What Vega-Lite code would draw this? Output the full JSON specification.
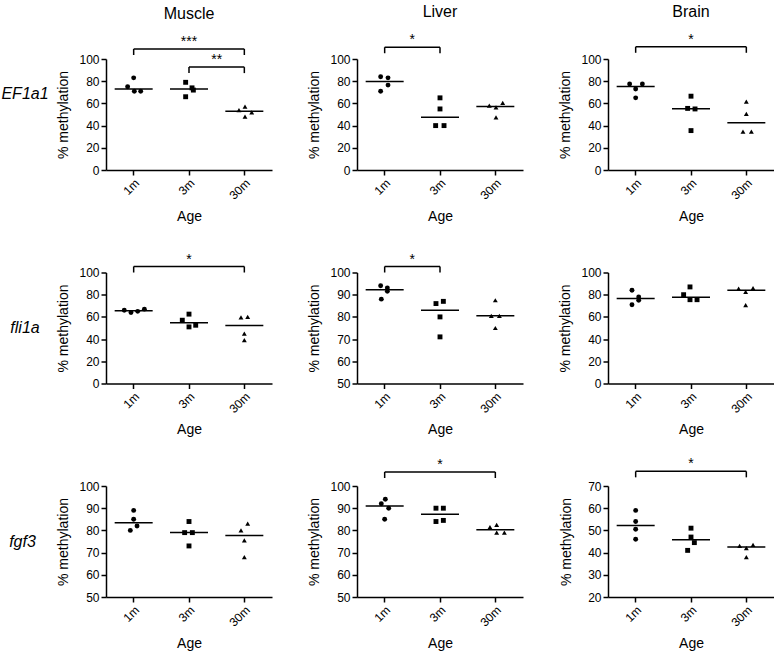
{
"$schema":"https://vega.github.io/schema/vega-lite/v6.json",
"padding":{"left":0,"top":3,"right":0,"bottom":0},
"background":"white",
"datasets":{
"pts":[
{"t":"Muscle","g":"EF1a1","a":"1m","v":83,"j":0},{"t":"Muscle","g":"EF1a1","a":"1m","v":75,"j":-1.8},{"t":"Muscle","g":"EF1a1","a":"1m","v":71,"j":0.2},{"t":"Muscle","g":"EF1a1","a":"1m","v":71,"j":2.1},
{"t":"Muscle","g":"EF1a1","a":"3m","v":79,"j":-1},{"t":"Muscle","g":"EF1a1","a":"3m","v":74,"j":0.9},{"t":"Muscle","g":"EF1a1","a":"3m","v":72,"j":1.3},{"t":"Muscle","g":"EF1a1","a":"3m","v":66,"j":-1},
{"t":"Muscle","g":"EF1a1","a":"30m","v":54,"j":-1.6},{"t":"Muscle","g":"EF1a1","a":"30m","v":57,"j":0.2},{"t":"Muscle","g":"EF1a1","a":"30m","v":52,"j":2.2},{"t":"Muscle","g":"EF1a1","a":"30m","v":48,"j":0.2},
{"t":"Liver","g":"EF1a1","a":"1m","v":84,"j":-1.2},{"t":"Liver","g":"EF1a1","a":"1m","v":83,"j":1},{"t":"Liver","g":"EF1a1","a":"1m","v":76.5,"j":1},{"t":"Liver","g":"EF1a1","a":"1m","v":71,"j":-1.2},
{"t":"Liver","g":"EF1a1","a":"3m","v":65,"j":0},{"t":"Liver","g":"EF1a1","a":"3m","v":55,"j":0},{"t":"Liver","g":"EF1a1","a":"3m","v":40,"j":-1.3},{"t":"Liver","g":"EF1a1","a":"3m","v":40,"j":1.2},
{"t":"Liver","g":"EF1a1","a":"30m","v":58,"j":-1.8},{"t":"Liver","g":"EF1a1","a":"30m","v":60.5,"j":2.2},{"t":"Liver","g":"EF1a1","a":"30m","v":56.5,"j":0.2},{"t":"Liver","g":"EF1a1","a":"30m","v":47.5,"j":0.2},
{"t":"Brain","g":"EF1a1","a":"1m","v":77.5,"j":-1.8},{"t":"Brain","g":"EF1a1","a":"1m","v":77.5,"j":2},{"t":"Brain","g":"EF1a1","a":"1m","v":73,"j":0},{"t":"Brain","g":"EF1a1","a":"1m","v":65,"j":0},
{"t":"Brain","g":"EF1a1","a":"3m","v":66.5,"j":0},{"t":"Brain","g":"EF1a1","a":"3m","v":55.5,"j":-1},{"t":"Brain","g":"EF1a1","a":"3m","v":55,"j":1.2},{"t":"Brain","g":"EF1a1","a":"3m","v":35.5,"j":0},
{"t":"Brain","g":"EF1a1","a":"30m","v":61.5,"j":0},{"t":"Brain","g":"EF1a1","a":"30m","v":50.5,"j":0},{"t":"Brain","g":"EF1a1","a":"30m","v":34.5,"j":-1},{"t":"Brain","g":"EF1a1","a":"30m","v":34.5,"j":1.5},
{"t":"Muscle","g":"fli1a","a":"1m","v":66,"j":-2.8},{"t":"Muscle","g":"fli1a","a":"1m","v":64,"j":-0.8},{"t":"Muscle","g":"fli1a","a":"1m","v":65,"j":1.2},{"t":"Muscle","g":"fli1a","a":"1m","v":67,"j":3.2},
{"t":"Muscle","g":"fli1a","a":"3m","v":57,"j":-2},{"t":"Muscle","g":"fli1a","a":"3m","v":62.5,"j":0},{"t":"Muscle","g":"fli1a","a":"3m","v":52.5,"j":2},{"t":"Muscle","g":"fli1a","a":"3m","v":51,"j":0},
{"t":"Muscle","g":"fli1a","a":"30m","v":59.5,"j":-1},{"t":"Muscle","g":"fli1a","a":"30m","v":60,"j":1},{"t":"Muscle","g":"fli1a","a":"30m","v":45,"j":0},{"t":"Muscle","g":"fli1a","a":"30m","v":39,"j":0},
{"t":"Liver","g":"fli1a","a":"1m","v":94,"j":-1.2},{"t":"Liver","g":"fli1a","a":"1m","v":93,"j":0.8},{"t":"Liver","g":"fli1a","a":"1m","v":91.5,"j":0.8},{"t":"Liver","g":"fli1a","a":"1m","v":88,"j":-1},
{"t":"Liver","g":"fli1a","a":"3m","v":86,"j":-1.2},{"t":"Liver","g":"fli1a","a":"3m","v":87,"j":1},{"t":"Liver","g":"fli1a","a":"3m","v":80,"j":0},{"t":"Liver","g":"fli1a","a":"3m","v":71,"j":0},
{"t":"Liver","g":"fli1a","a":"30m","v":87.5,"j":0},{"t":"Liver","g":"fli1a","a":"30m","v":80.5,"j":-1.2},{"t":"Liver","g":"fli1a","a":"30m","v":80.5,"j":1.2},{"t":"Liver","g":"fli1a","a":"30m","v":75,"j":0},
{"t":"Brain","g":"fli1a","a":"1m","v":84,"j":-1.1},{"t":"Brain","g":"fli1a","a":"1m","v":78,"j":0.9},{"t":"Brain","g":"fli1a","a":"1m","v":75,"j":0.9},{"t":"Brain","g":"fli1a","a":"1m","v":71,"j":-1.1},
{"t":"Brain","g":"fli1a","a":"3m","v":87,"j":-0.3},{"t":"Brain","g":"fli1a","a":"3m","v":80,"j":-2.2},{"t":"Brain","g":"fli1a","a":"3m","v":75.5,"j":-0.3},{"t":"Brain","g":"fli1a","a":"3m","v":75.5,"j":1.8},
{"t":"Brain","g":"fli1a","a":"30m","v":85.5,"j":-2.3},{"t":"Brain","g":"fli1a","a":"30m","v":82.5,"j":-0.2},{"t":"Brain","g":"fli1a","a":"30m","v":86,"j":2},{"t":"Brain","g":"fli1a","a":"30m","v":70.5,"j":-0.2},
{"t":"Muscle","g":"fgf3","a":"1m","v":89,"j":0},{"t":"Muscle","g":"fgf3","a":"1m","v":85,"j":0},{"t":"Muscle","g":"fgf3","a":"1m","v":82,"j":1},{"t":"Muscle","g":"fgf3","a":"1m","v":80,"j":-1},
{"t":"Muscle","g":"fgf3","a":"3m","v":84,"j":0},{"t":"Muscle","g":"fgf3","a":"3m","v":79,"j":-1.3},{"t":"Muscle","g":"fgf3","a":"3m","v":79,"j":1},{"t":"Muscle","g":"fgf3","a":"3m","v":73,"j":0},
{"t":"Muscle","g":"fgf3","a":"30m","v":83,"j":1},{"t":"Muscle","g":"fgf3","a":"30m","v":80,"j":-1},{"t":"Muscle","g":"fgf3","a":"30m","v":75.5,"j":0},{"t":"Muscle","g":"fgf3","a":"30m","v":68,"j":0},
{"t":"Liver","g":"fgf3","a":"1m","v":94,"j":0.2},{"t":"Liver","g":"fgf3","a":"1m","v":92,"j":-1},{"t":"Liver","g":"fgf3","a":"1m","v":90,"j":1.2},{"t":"Liver","g":"fgf3","a":"1m","v":85,"j":0},
{"t":"Liver","g":"fgf3","a":"3m","v":90,"j":-1.2},{"t":"Liver","g":"fgf3","a":"3m","v":90,"j":1},{"t":"Liver","g":"fgf3","a":"3m","v":84,"j":-1.2},{"t":"Liver","g":"fgf3","a":"3m","v":84.5,"j":1},
{"t":"Liver","g":"fgf3","a":"30m","v":81.5,"j":-1.6},{"t":"Liver","g":"fgf3","a":"30m","v":82.5,"j":0.4},{"t":"Liver","g":"fgf3","a":"30m","v":79,"j":0.4},{"t":"Liver","g":"fgf3","a":"30m","v":79,"j":2.7},
{"t":"Brain","g":"fgf3","a":"1m","v":59,"j":0},{"t":"Brain","g":"fgf3","a":"1m","v":54,"j":0},{"t":"Brain","g":"fgf3","a":"1m","v":50.5,"j":0},{"t":"Brain","g":"fgf3","a":"1m","v":46,"j":0},
{"t":"Brain","g":"fgf3","a":"3m","v":51,"j":0},{"t":"Brain","g":"fgf3","a":"3m","v":47,"j":0},{"t":"Brain","g":"fgf3","a":"3m","v":44.5,"j":1},{"t":"Brain","g":"fgf3","a":"3m","v":41,"j":-1},
{"t":"Brain","g":"fgf3","a":"30m","v":43,"j":-2},{"t":"Brain","g":"fgf3","a":"30m","v":42,"j":0},{"t":"Brain","g":"fgf3","a":"30m","v":43.5,"j":2},{"t":"Brain","g":"fgf3","a":"30m","v":38,"j":0}
],
"br":[
{"t":"Muscle","g":"EF1a1","from":"1m","to":"30m","by":109,"lab":"***"},
{"t":"Muscle","g":"EF1a1","from":"3m","to":"30m","by":92.7,"lab":"**"},
{"t":"Liver","g":"EF1a1","from":"1m","to":"3m","by":110.6,"lab":"*"},
{"t":"Brain","g":"EF1a1","from":"1m","to":"30m","by":111,"lab":"*"},
{"t":"Muscle","g":"fli1a","from":"1m","to":"30m","by":105.4,"lab":"*"},
{"t":"Liver","g":"fli1a","from":"1m","to":"3m","by":102.7,"lab":"*"},
{"t":"Liver","g":"fgf3","from":"1m","to":"30m","by":106.3,"lab":"*"},
{"t":"Brain","g":"fgf3","from":"1m","to":"30m","by":76.6,"lab":"*"}
]
},
"concat":[
 {"width":21,"height":70,"data":{"values":[{"g":"EF1a1"}]},"mark":{"type":"text","fontSize":16,"fontStyle":"italic","font":"Liberation Sans","color":"black","dx":14.5},"encoding":{"text":{"field":"g"}}},
  {"width":166,"height":111,
   "title":{"text":"Muscle"},
   "layer":[
    {"data":{"name":"pts"},"transform":[{"filter":"datum.t==='Muscle' && datum.g==='EF1a1'"}],
     "mark":{"type":"point","filled":true,"opacity":1,"size":24,"color":"black"},
     "encoding":{"x":{"field":"a","type":"nominal","scale":{"type":"band","domain":["1m","3m","30m"],"paddingInner":0,"paddingOuter":0},"title":"Age"},
      "xOffset":{"field":"j","type":"quantitative","scale":{"domain":[-8.25,8.25]}},
      "y":{"field":"v","type":"quantitative","scale":{"domain":[0,100],"nice":false,"zero":false},"axis":{"values":[0,20,40,60,80,100]},"title":"% methylation"},
      "shape":{"field":"a","type":"nominal","scale":{"domain":["1m","3m","30m"],"range":["circle","square","triangle-up"]},"legend":null}}},
    {"data":{"name":"pts"},"transform":[{"filter":"datum.t==='Muscle' && datum.g==='EF1a1'"}],
     "mark":{"type":"tick","color":"black","size":38,"thickness":1.5},
     "encoding":{"x":{"field":"a","type":"nominal","title":"Age"},"y":{"aggregate":"median","field":"v","type":"quantitative","title":"% methylation"}}},
    {"data":{"name":"br"},"transform":[{"filter":"datum.t==='Muscle' && datum.g==='EF1a1'"}],
     "mark":{"type":"rule","color":"black","strokeWidth":1.5},
     "encoding":{"x":{"field":"from","type":"nominal","bandPosition":0.5,"title":"Age"},"x2":{"field":"to","title":"Age"},"y":{"field":"by","type":"quantitative","title":"% methylation"}}},
    {"data":{"name":"br"},"transform":[{"filter":"datum.t==='Muscle' && datum.g==='EF1a1'"}],
     "mark":{"type":"rule","color":"black","strokeWidth":1.5,"y2Offset":6},
     "encoding":{"x":{"field":"from","type":"nominal","bandPosition":0.5,"title":"Age"},"y":{"field":"by","type":"quantitative","title":"% methylation"},"y2":{"field":"by","title":"% methylation"}}},
    {"data":{"name":"br"},"transform":[{"filter":"datum.t==='Muscle' && datum.g==='EF1a1'"}],
     "mark":{"type":"rule","color":"black","strokeWidth":1.5,"y2Offset":6},
     "encoding":{"x":{"field":"to","type":"nominal","bandPosition":0.5,"title":"Age"},"y":{"field":"by","type":"quantitative","title":"% methylation"},"y2":{"field":"by","title":"% methylation"}}},
    {"data":{"name":"br"},"transform":[{"filter":"datum.t==='Muscle' && datum.g==='EF1a1' && datum.from==='1m' && datum.to==='30m'"}],
     "mark":{"type":"text","fontSize":14,"dy":-3,"baseline":"alphabetic","color":"black"},
     "encoding":{"x":{"datum":"3m","type":"nominal","bandPosition":0.5,"title":"Age"},"y":{"field":"by","type":"quantitative","title":"% methylation"},"text":{"field":"lab"}}},
    {"data":{"name":"br"},"transform":[{"filter":"datum.t==='Muscle' && datum.g==='EF1a1' && !(datum.from==='1m' && datum.to==='30m')"}],
     "mark":{"type":"text","fontSize":14,"dy":-3,"baseline":"alphabetic","color":"black"},
     "encoding":{"x":{"field":"from","type":"nominal","bandPosition":1,"title":"Age"},"y":{"field":"by","type":"quantitative","title":"% methylation"},"text":{"field":"lab"}}}
   ]},
  {"width":166,"height":111,
   "title":{"text":"Liver"},
   "layer":[
    {"data":{"name":"pts"},"transform":[{"filter":"datum.t==='Liver' && datum.g==='EF1a1'"}],
     "mark":{"type":"point","filled":true,"opacity":1,"size":24,"color":"black"},
     "encoding":{"x":{"field":"a","type":"nominal","scale":{"type":"band","domain":["1m","3m","30m"],"paddingInner":0,"paddingOuter":0},"title":"Age"},
      "xOffset":{"field":"j","type":"quantitative","scale":{"domain":[-8.25,8.25]}},
      "y":{"field":"v","type":"quantitative","scale":{"domain":[0,100],"nice":false,"zero":false},"axis":{"values":[0,20,40,60,80,100]},"title":"% methylation"},
      "shape":{"field":"a","type":"nominal","scale":{"domain":["1m","3m","30m"],"range":["circle","square","triangle-up"]},"legend":null}}},
    {"data":{"name":"pts"},"transform":[{"filter":"datum.t==='Liver' && datum.g==='EF1a1'"}],
     "mark":{"type":"tick","color":"black","size":38,"thickness":1.5},
     "encoding":{"x":{"field":"a","type":"nominal","title":"Age"},"y":{"aggregate":"median","field":"v","type":"quantitative","title":"% methylation"}}},
    {"data":{"name":"br"},"transform":[{"filter":"datum.t==='Liver' && datum.g==='EF1a1'"}],
     "mark":{"type":"rule","color":"black","strokeWidth":1.5},
     "encoding":{"x":{"field":"from","type":"nominal","bandPosition":0.5,"title":"Age"},"x2":{"field":"to","title":"Age"},"y":{"field":"by","type":"quantitative","title":"% methylation"}}},
    {"data":{"name":"br"},"transform":[{"filter":"datum.t==='Liver' && datum.g==='EF1a1'"}],
     "mark":{"type":"rule","color":"black","strokeWidth":1.5,"y2Offset":6},
     "encoding":{"x":{"field":"from","type":"nominal","bandPosition":0.5,"title":"Age"},"y":{"field":"by","type":"quantitative","title":"% methylation"},"y2":{"field":"by","title":"% methylation"}}},
    {"data":{"name":"br"},"transform":[{"filter":"datum.t==='Liver' && datum.g==='EF1a1'"}],
     "mark":{"type":"rule","color":"black","strokeWidth":1.5,"y2Offset":6},
     "encoding":{"x":{"field":"to","type":"nominal","bandPosition":0.5,"title":"Age"},"y":{"field":"by","type":"quantitative","title":"% methylation"},"y2":{"field":"by","title":"% methylation"}}},
    {"data":{"name":"br"},"transform":[{"filter":"datum.t==='Liver' && datum.g==='EF1a1'"}],
     "mark":{"type":"text","fontSize":14,"dy":-3,"baseline":"alphabetic","color":"black"},
     "encoding":{"x":{"field":"from","type":"nominal","bandPosition":1,"title":"Age"},"y":{"field":"by","type":"quantitative","title":"% methylation"},"text":{"field":"lab"}}}
   ]},
  {"width":166,"height":111,
   "title":{"text":"Brain"},
   "layer":[
    {"data":{"name":"pts"},"transform":[{"filter":"datum.t==='Brain' && datum.g==='EF1a1'"}],
     "mark":{"type":"point","filled":true,"opacity":1,"size":24,"color":"black"},
     "encoding":{"x":{"field":"a","type":"nominal","scale":{"type":"band","domain":["1m","3m","30m"],"paddingInner":0,"paddingOuter":0},"title":"Age"},
      "xOffset":{"field":"j","type":"quantitative","scale":{"domain":[-8.25,8.25]}},
      "y":{"field":"v","type":"quantitative","scale":{"domain":[0,100],"nice":false,"zero":false},"axis":{"values":[0,20,40,60,80,100]},"title":"% methylation"},
      "shape":{"field":"a","type":"nominal","scale":{"domain":["1m","3m","30m"],"range":["circle","square","triangle-up"]},"legend":null}}},
    {"data":{"name":"pts"},"transform":[{"filter":"datum.t==='Brain' && datum.g==='EF1a1'"}],
     "mark":{"type":"tick","color":"black","size":38,"thickness":1.5},
     "encoding":{"x":{"field":"a","type":"nominal","title":"Age"},"y":{"aggregate":"median","field":"v","type":"quantitative","title":"% methylation"}}},
    {"data":{"name":"br"},"transform":[{"filter":"datum.t==='Brain' && datum.g==='EF1a1'"}],
     "mark":{"type":"rule","color":"black","strokeWidth":1.5},
     "encoding":{"x":{"field":"from","type":"nominal","bandPosition":0.5,"title":"Age"},"x2":{"field":"to","title":"Age"},"y":{"field":"by","type":"quantitative","title":"% methylation"}}},
    {"data":{"name":"br"},"transform":[{"filter":"datum.t==='Brain' && datum.g==='EF1a1'"}],
     "mark":{"type":"rule","color":"black","strokeWidth":1.5,"y2Offset":6},
     "encoding":{"x":{"field":"from","type":"nominal","bandPosition":0.5,"title":"Age"},"y":{"field":"by","type":"quantitative","title":"% methylation"},"y2":{"field":"by","title":"% methylation"}}},
    {"data":{"name":"br"},"transform":[{"filter":"datum.t==='Brain' && datum.g==='EF1a1'"}],
     "mark":{"type":"rule","color":"black","strokeWidth":1.5,"y2Offset":6},
     "encoding":{"x":{"field":"to","type":"nominal","bandPosition":0.5,"title":"Age"},"y":{"field":"by","type":"quantitative","title":"% methylation"},"y2":{"field":"by","title":"% methylation"}}},
    {"data":{"name":"br"},"transform":[{"filter":"datum.t==='Brain' && datum.g==='EF1a1'"}],
     "mark":{"type":"text","fontSize":14,"dy":-3,"baseline":"alphabetic","color":"black"},
     "encoding":{"x":{"datum":"3m","type":"nominal","bandPosition":0.5,"title":"Age"},"y":{"field":"by","type":"quantitative","title":"% methylation"},"text":{"field":"lab"}}}
   ]},
 {"width":21,"height":111,"data":{"values":[{"g":"fli1a"}]},"mark":{"type":"text","fontSize":16,"fontStyle":"italic","font":"Liberation Sans","color":"black","dx":14.5},"encoding":{"text":{"field":"g"}}},
  {"width":166,"height":111,
   "layer":[
    {"data":{"name":"pts"},"transform":[{"filter":"datum.t==='Muscle' && datum.g==='fli1a'"}],
     "mark":{"type":"point","filled":true,"opacity":1,"size":24,"color":"black"},
     "encoding":{"x":{"field":"a","type":"nominal","scale":{"type":"band","domain":["1m","3m","30m"],"paddingInner":0,"paddingOuter":0},"title":"Age"},
      "xOffset":{"field":"j","type":"quantitative","scale":{"domain":[-8.25,8.25]}},
      "y":{"field":"v","type":"quantitative","scale":{"domain":[0,100],"nice":false,"zero":false},"axis":{"values":[0,20,40,60,80,100]},"title":"% methylation"},
      "shape":{"field":"a","type":"nominal","scale":{"domain":["1m","3m","30m"],"range":["circle","square","triangle-up"]},"legend":null}}},
    {"data":{"name":"pts"},"transform":[{"filter":"datum.t==='Muscle' && datum.g==='fli1a'"}],
     "mark":{"type":"tick","color":"black","size":38,"thickness":1.5},
     "encoding":{"x":{"field":"a","type":"nominal","title":"Age"},"y":{"aggregate":"median","field":"v","type":"quantitative","title":"% methylation"}}},
    {"data":{"name":"br"},"transform":[{"filter":"datum.t==='Muscle' && datum.g==='fli1a'"}],
     "mark":{"type":"rule","color":"black","strokeWidth":1.5},
     "encoding":{"x":{"field":"from","type":"nominal","bandPosition":0.5,"title":"Age"},"x2":{"field":"to","title":"Age"},"y":{"field":"by","type":"quantitative","title":"% methylation"}}},
    {"data":{"name":"br"},"transform":[{"filter":"datum.t==='Muscle' && datum.g==='fli1a'"}],
     "mark":{"type":"rule","color":"black","strokeWidth":1.5,"y2Offset":6},
     "encoding":{"x":{"field":"from","type":"nominal","bandPosition":0.5,"title":"Age"},"y":{"field":"by","type":"quantitative","title":"% methylation"},"y2":{"field":"by","title":"% methylation"}}},
    {"data":{"name":"br"},"transform":[{"filter":"datum.t==='Muscle' && datum.g==='fli1a'"}],
     "mark":{"type":"rule","color":"black","strokeWidth":1.5,"y2Offset":6},
     "encoding":{"x":{"field":"to","type":"nominal","bandPosition":0.5,"title":"Age"},"y":{"field":"by","type":"quantitative","title":"% methylation"},"y2":{"field":"by","title":"% methylation"}}},
    {"data":{"name":"br"},"transform":[{"filter":"datum.t==='Muscle' && datum.g==='fli1a'"}],
     "mark":{"type":"text","fontSize":14,"dy":-3,"baseline":"alphabetic","color":"black"},
     "encoding":{"x":{"datum":"3m","type":"nominal","bandPosition":0.5,"title":"Age"},"y":{"field":"by","type":"quantitative","title":"% methylation"},"text":{"field":"lab"}}}
   ]},
  {"width":166,"height":111,
   "layer":[
    {"data":{"name":"pts"},"transform":[{"filter":"datum.t==='Liver' && datum.g==='fli1a'"}],
     "mark":{"type":"point","filled":true,"opacity":1,"size":24,"color":"black"},
     "encoding":{"x":{"field":"a","type":"nominal","scale":{"type":"band","domain":["1m","3m","30m"],"paddingInner":0,"paddingOuter":0},"title":"Age"},
      "xOffset":{"field":"j","type":"quantitative","scale":{"domain":[-8.25,8.25]}},
      "y":{"field":"v","type":"quantitative","scale":{"domain":[50,100],"nice":false,"zero":false},"axis":{"values":[50,60,70,80,90,100]},"title":"% methylation"},
      "shape":{"field":"a","type":"nominal","scale":{"domain":["1m","3m","30m"],"range":["circle","square","triangle-up"]},"legend":null}}},
    {"data":{"name":"pts"},"transform":[{"filter":"datum.t==='Liver' && datum.g==='fli1a'"}],
     "mark":{"type":"tick","color":"black","size":38,"thickness":1.5},
     "encoding":{"x":{"field":"a","type":"nominal","title":"Age"},"y":{"aggregate":"median","field":"v","type":"quantitative","title":"% methylation"}}},
    {"data":{"name":"br"},"transform":[{"filter":"datum.t==='Liver' && datum.g==='fli1a'"}],
     "mark":{"type":"rule","color":"black","strokeWidth":1.5},
     "encoding":{"x":{"field":"from","type":"nominal","bandPosition":0.5,"title":"Age"},"x2":{"field":"to","title":"Age"},"y":{"field":"by","type":"quantitative","title":"% methylation"}}},
    {"data":{"name":"br"},"transform":[{"filter":"datum.t==='Liver' && datum.g==='fli1a'"}],
     "mark":{"type":"rule","color":"black","strokeWidth":1.5,"y2Offset":6},
     "encoding":{"x":{"field":"from","type":"nominal","bandPosition":0.5,"title":"Age"},"y":{"field":"by","type":"quantitative","title":"% methylation"},"y2":{"field":"by","title":"% methylation"}}},
    {"data":{"name":"br"},"transform":[{"filter":"datum.t==='Liver' && datum.g==='fli1a'"}],
     "mark":{"type":"rule","color":"black","strokeWidth":1.5,"y2Offset":6},
     "encoding":{"x":{"field":"to","type":"nominal","bandPosition":0.5,"title":"Age"},"y":{"field":"by","type":"quantitative","title":"% methylation"},"y2":{"field":"by","title":"% methylation"}}},
    {"data":{"name":"br"},"transform":[{"filter":"datum.t==='Liver' && datum.g==='fli1a'"}],
     "mark":{"type":"text","fontSize":14,"dy":-3,"baseline":"alphabetic","color":"black"},
     "encoding":{"x":{"field":"from","type":"nominal","bandPosition":1,"title":"Age"},"y":{"field":"by","type":"quantitative","title":"% methylation"},"text":{"field":"lab"}}}
   ]},
  {"width":166,"height":111,
   "layer":[
    {"data":{"name":"pts"},"transform":[{"filter":"datum.t==='Brain' && datum.g==='fli1a'"}],
     "mark":{"type":"point","filled":true,"opacity":1,"size":24,"color":"black"},
     "encoding":{"x":{"field":"a","type":"nominal","scale":{"type":"band","domain":["1m","3m","30m"],"paddingInner":0,"paddingOuter":0},"title":"Age"},
      "xOffset":{"field":"j","type":"quantitative","scale":{"domain":[-8.25,8.25]}},
      "y":{"field":"v","type":"quantitative","scale":{"domain":[0,100],"nice":false,"zero":false},"axis":{"values":[0,20,40,60,80,100]},"title":"% methylation"},
      "shape":{"field":"a","type":"nominal","scale":{"domain":["1m","3m","30m"],"range":["circle","square","triangle-up"]},"legend":null}}},
    {"data":{"name":"pts"},"transform":[{"filter":"datum.t==='Brain' && datum.g==='fli1a'"}],
     "mark":{"type":"tick","color":"black","size":38,"thickness":1.5},
     "encoding":{"x":{"field":"a","type":"nominal","title":"Age"},"y":{"aggregate":"median","field":"v","type":"quantitative","title":"% methylation"}}}
   ]},
 {"width":21,"height":111,"data":{"values":[{"g":"fgf3"}]},"mark":{"type":"text","fontSize":16,"fontStyle":"italic","font":"Liberation Sans","color":"black","dx":12},"encoding":{"text":{"field":"g"}}},
  {"width":166,"height":111,
   "layer":[
    {"data":{"name":"pts"},"transform":[{"filter":"datum.t==='Muscle' && datum.g==='fgf3'"}],
     "mark":{"type":"point","filled":true,"opacity":1,"size":24,"color":"black"},
     "encoding":{"x":{"field":"a","type":"nominal","scale":{"type":"band","domain":["1m","3m","30m"],"paddingInner":0,"paddingOuter":0},"title":"Age"},
      "xOffset":{"field":"j","type":"quantitative","scale":{"domain":[-8.25,8.25]}},
      "y":{"field":"v","type":"quantitative","scale":{"domain":[50,100],"nice":false,"zero":false},"axis":{"values":[50,60,70,80,90,100]},"title":"% methylation"},
      "shape":{"field":"a","type":"nominal","scale":{"domain":["1m","3m","30m"],"range":["circle","square","triangle-up"]},"legend":null}}},
    {"data":{"name":"pts"},"transform":[{"filter":"datum.t==='Muscle' && datum.g==='fgf3'"}],
     "mark":{"type":"tick","color":"black","size":38,"thickness":1.5},
     "encoding":{"x":{"field":"a","type":"nominal","title":"Age"},"y":{"aggregate":"median","field":"v","type":"quantitative","title":"% methylation"}}}
   ]},
  {"width":166,"height":111,
   "layer":[
    {"data":{"name":"pts"},"transform":[{"filter":"datum.t==='Liver' && datum.g==='fgf3'"}],
     "mark":{"type":"point","filled":true,"opacity":1,"size":24,"color":"black"},
     "encoding":{"x":{"field":"a","type":"nominal","scale":{"type":"band","domain":["1m","3m","30m"],"paddingInner":0,"paddingOuter":0},"title":"Age"},
      "xOffset":{"field":"j","type":"quantitative","scale":{"domain":[-8.25,8.25]}},
      "y":{"field":"v","type":"quantitative","scale":{"domain":[50,100],"nice":false,"zero":false},"axis":{"values":[50,60,70,80,90,100]},"title":"% methylation"},
      "shape":{"field":"a","type":"nominal","scale":{"domain":["1m","3m","30m"],"range":["circle","square","triangle-up"]},"legend":null}}},
    {"data":{"name":"pts"},"transform":[{"filter":"datum.t==='Liver' && datum.g==='fgf3'"}],
     "mark":{"type":"tick","color":"black","size":38,"thickness":1.5},
     "encoding":{"x":{"field":"a","type":"nominal","title":"Age"},"y":{"aggregate":"median","field":"v","type":"quantitative","title":"% methylation"}}},
    {"data":{"name":"br"},"transform":[{"filter":"datum.t==='Liver' && datum.g==='fgf3'"}],
     "mark":{"type":"rule","color":"black","strokeWidth":1.5},
     "encoding":{"x":{"field":"from","type":"nominal","bandPosition":0.5,"title":"Age"},"x2":{"field":"to","title":"Age"},"y":{"field":"by","type":"quantitative","title":"% methylation"}}},
    {"data":{"name":"br"},"transform":[{"filter":"datum.t==='Liver' && datum.g==='fgf3'"}],
     "mark":{"type":"rule","color":"black","strokeWidth":1.5,"y2Offset":6},
     "encoding":{"x":{"field":"from","type":"nominal","bandPosition":0.5,"title":"Age"},"y":{"field":"by","type":"quantitative","title":"% methylation"},"y2":{"field":"by","title":"% methylation"}}},
    {"data":{"name":"br"},"transform":[{"filter":"datum.t==='Liver' && datum.g==='fgf3'"}],
     "mark":{"type":"rule","color":"black","strokeWidth":1.5,"y2Offset":6},
     "encoding":{"x":{"field":"to","type":"nominal","bandPosition":0.5,"title":"Age"},"y":{"field":"by","type":"quantitative","title":"% methylation"},"y2":{"field":"by","title":"% methylation"}}},
    {"data":{"name":"br"},"transform":[{"filter":"datum.t==='Liver' && datum.g==='fgf3'"}],
     "mark":{"type":"text","fontSize":14,"dy":-3,"baseline":"alphabetic","color":"black"},
     "encoding":{"x":{"datum":"3m","type":"nominal","bandPosition":0.5,"title":"Age"},"y":{"field":"by","type":"quantitative","title":"% methylation"},"text":{"field":"lab"}}}
   ]},
  {"width":166,"height":111,
   "layer":[
    {"data":{"name":"pts"},"transform":[{"filter":"datum.t==='Brain' && datum.g==='fgf3'"}],
     "mark":{"type":"point","filled":true,"opacity":1,"size":24,"color":"black"},
     "encoding":{"x":{"field":"a","type":"nominal","scale":{"type":"band","domain":["1m","3m","30m"],"paddingInner":0,"paddingOuter":0},"title":"Age"},
      "xOffset":{"field":"j","type":"quantitative","scale":{"domain":[-8.25,8.25]}},
      "y":{"field":"v","type":"quantitative","scale":{"domain":[20,70],"nice":false,"zero":false},"axis":{"values":[20,30,40,50,60,70]},"title":"% methylation"},
      "shape":{"field":"a","type":"nominal","scale":{"domain":["1m","3m","30m"],"range":["circle","square","triangle-up"]},"legend":null}}},
    {"data":{"name":"pts"},"transform":[{"filter":"datum.t==='Brain' && datum.g==='fgf3'"}],
     "mark":{"type":"tick","color":"black","size":38,"thickness":1.5},
     "encoding":{"x":{"field":"a","type":"nominal","title":"Age"},"y":{"aggregate":"median","field":"v","type":"quantitative","title":"% methylation"}}},
    {"data":{"name":"br"},"transform":[{"filter":"datum.t==='Brain' && datum.g==='fgf3'"}],
     "mark":{"type":"rule","color":"black","strokeWidth":1.5},
     "encoding":{"x":{"field":"from","type":"nominal","bandPosition":0.5,"title":"Age"},"x2":{"field":"to","title":"Age"},"y":{"field":"by","type":"quantitative","title":"% methylation"}}},
    {"data":{"name":"br"},"transform":[{"filter":"datum.t==='Brain' && datum.g==='fgf3'"}],
     "mark":{"type":"rule","color":"black","strokeWidth":1.5,"y2Offset":6},
     "encoding":{"x":{"field":"from","type":"nominal","bandPosition":0.5,"title":"Age"},"y":{"field":"by","type":"quantitative","title":"% methylation"},"y2":{"field":"by","title":"% methylation"}}},
    {"data":{"name":"br"},"transform":[{"filter":"datum.t==='Brain' && datum.g==='fgf3'"}],
     "mark":{"type":"rule","color":"black","strokeWidth":1.5,"y2Offset":6},
     "encoding":{"x":{"field":"to","type":"nominal","bandPosition":0.5,"title":"Age"},"y":{"field":"by","type":"quantitative","title":"% methylation"},"y2":{"field":"by","title":"% methylation"}}},
    {"data":{"name":"br"},"transform":[{"filter":"datum.t==='Brain' && datum.g==='fgf3'"}],
     "mark":{"type":"text","fontSize":14,"dy":-3,"baseline":"alphabetic","color":"black"},
     "encoding":{"x":{"datum":"3m","type":"nominal","bandPosition":0.5,"title":"Age"},"y":{"field":"by","type":"quantitative","title":"% methylation"},"text":{"field":"lab"}}}
   ]}
],
"columns":4,
"align":"each",
"spacing":{"row":102.5,"column":85},
"bounds":"flush",
"config":{
 "font":"Liberation Sans",
 "view":{"stroke":null},
 "title":{"fontSize":16,"fontWeight":"normal","anchor":"middle","frame":"group","baseline":"alphabetic","offset":13,"color":"black","font":"Liberation Sans"},
 "axis":{"domainColor":"black","tickColor":"black","labelColor":"black","titleColor":"black","grid":false,"labelFontSize":12,"titleFontSize":14,"titleFontWeight":"normal","domainWidth":1.5,"tickWidth":1.5,"tickSize":5,"labelPadding":2,"labelFont":"Liberation Sans","titleFont":"Liberation Sans","labelOverlap":false},
 "axisX":{"labelAngle":-45,"titlePadding":8},
 "axisY":{"titlePadding":8,"minExtent":27,"tickCount":6}
}
}
